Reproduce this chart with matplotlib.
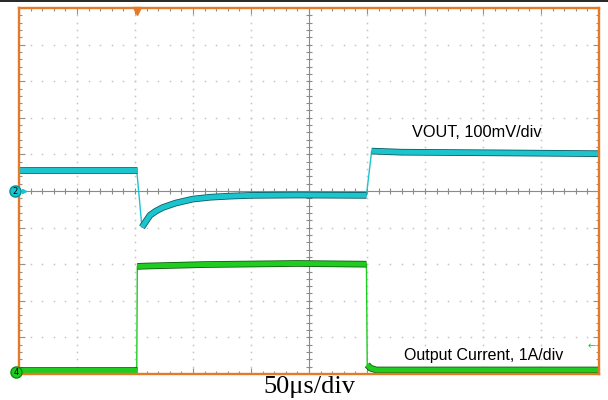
import numpy as np
import matplotlib.pyplot as plt
import matplotlib.patheffects as pe
from matplotlib.lines import Line2D

# scope capture: time in us (50us/div), screen height 10 div
# VOUT, ch2, 100mV/div, referenced to marker at 5 div
vout_t = [0, 60, 101.5, 106, 110, 113, 118, 124, 135, 150, 165, 182, 200, 240, 299.5, 304, 330, 420, 500]
vout_mv = [57, 57, 57, -99, -80, -66, -55, -45, -33, -22, -17, -14, -12, -11, -12, 109, 106, 104, 102]
vout_segs = [(0, 3), (3, 15), (15, 19)]

# output current, 1A/div, referenced to bottom of screen
iout_t = [0, 101.5, 102, 110, 160, 240, 299.5, 300.2, 303, 308, 400, 500]
iout_a = [0.11, 0.11, 2.94, 2.95, 2.99, 3.02, 3.0, 0.25, 0.16, 0.11, 0.11, 0.11]
iout_segs = [(0, 2), (2, 7), (7, 12)]

vout_ref = 5.0
mv_per_div = 100.0
a_per_div = 1.0

cyan = '#1CC4CE'
cyan_dark = '#0A5C62'
green = '#1FCC1F'
green_dark = '#0B5E0B'
orange = '#E47A28'

fig = plt.figure(figsize=(6.08, 4.0), dpi=100)
ax = fig.add_axes([19/608, 26/400, 580/608, 366/400])
ax.set_xlim(0, 500)
ax.set_ylim(0, 10)

# graticule dots
for x in np.arange(50, 500, 50):
    if x == 250:
        continue
    ys = np.arange(0.2, 10, 0.2)
    ax.plot(np.full(len(ys), x), ys, ls='none', marker='s', ms=1.1, mec='none', mfc='#C4C4C4', zorder=1)
for y in np.arange(1, 10):
    if y == 5:
        continue
    xs = np.arange(10, 500, 10)
    ax.plot(xs, np.full(len(xs), y), ls='none', marker='s', ms=1.1, mec='none', mfc='#C4C4C4', zorder=1)

# center lines with ticks
ax.axvline(250, color='#8A8A8A', lw=0.8, zorder=1)
ax.axhline(5, color='#8A8A8A', lw=0.8, zorder=1)
ys = np.arange(0.2, 10, 0.2)
ax.plot(np.full(len(ys), 250), ys, ls='none', marker='_', ms=4, mew=0.8, color='#8A8A8A', zorder=1)
xs = np.arange(10, 500, 10)
ax.plot(xs, np.full(len(xs), 5), ls='none', marker='|', ms=4, mew=0.8, color='#8A8A8A', zorder=1)

# edge ticks
ax.set_xticks(np.arange(0, 501, 50))
ax.set_xticks(np.arange(0, 501, 10), minor=True)
ax.set_yticks(np.arange(0, 11, 1))
ax.set_yticks(np.arange(0, 10.01, 0.2), minor=True)
ax.tick_params(which='both', direction='in', top=True, right=True, bottom=True, left=True,
               labelbottom=False, labelleft=False, color='#909090', width=0.8)
ax.tick_params(which='major', length=4)
ax.tick_params(which='minor', length=2.4)
for s in ax.spines.values():
    s.set_color(orange)
    s.set_linewidth(1.7)
    s.set_zorder(6)

def trace(t, y, segs, color, dark):
    t = np.asarray(t)
    y = np.asarray(y)
    ax.plot(t, y, color=color, lw=1.0, zorder=3)
    for a, b in segs:
        ax.plot(t[a:b], y[a:b], color=color, lw=3.6, solid_capstyle='butt', solid_joinstyle='round',
                zorder=4, path_effects=[pe.Stroke(linewidth=4.8, foreground=dark), pe.Normal()])

trace(vout_t, vout_ref + np.array(vout_mv) / mv_per_div, vout_segs, cyan, cyan_dark)
trace(iout_t, np.array(iout_a) / a_per_div, iout_segs, green, green_dark)

# channel markers
ax.plot([-3.2], [5.0], marker='o', ms=8, mfc=cyan, mec='#0E8C94', clip_on=False, zorder=7)
ax.text(-3.2, 5.0, '2', fontsize=6, ha='center', va='center', clip_on=False, zorder=8)
ax.plot([4], [5.0], marker='>', ms=3, color=cyan, clip_on=False, zorder=7)
ax.plot([-2.2], [0.05], marker='o', ms=8, mfc=green, mec='#0E8C0E', clip_on=False, zorder=7)
ax.text(-2.2, 0.05, '4', fontsize=6, ha='center', va='center', clip_on=False, zorder=8)
ax.text(494, 0.77, '\u2190', fontsize=7, color=green, ha='center', va='center', zorder=7)
# trigger position
ax.plot([101.5], [9.92], marker='v', ms=6, color=orange, mec=orange, clip_on=False, zorder=7)

ax.text(339, 6.6, 'VOUT, 100mV/div', fontsize=11.8, family='Liberation Sans', ha='left', va='center', zorder=9)
ax.text(332, 0.5, 'Output Current, 1A/div', fontsize=11.5, family='Liberation Sans', ha='left', va='center', zorder=9)
fig.text(309/608, 1 - 387/400, '50\u03bcs/div', fontsize=19, family='Liberation Serif', ha='center', va='center')

fig.add_artist(Line2D([0, 1], [0.998, 0.998], color='black', lw=1.2, transform=fig.transFigure))

fig.savefig('out.png', dpi=100)
